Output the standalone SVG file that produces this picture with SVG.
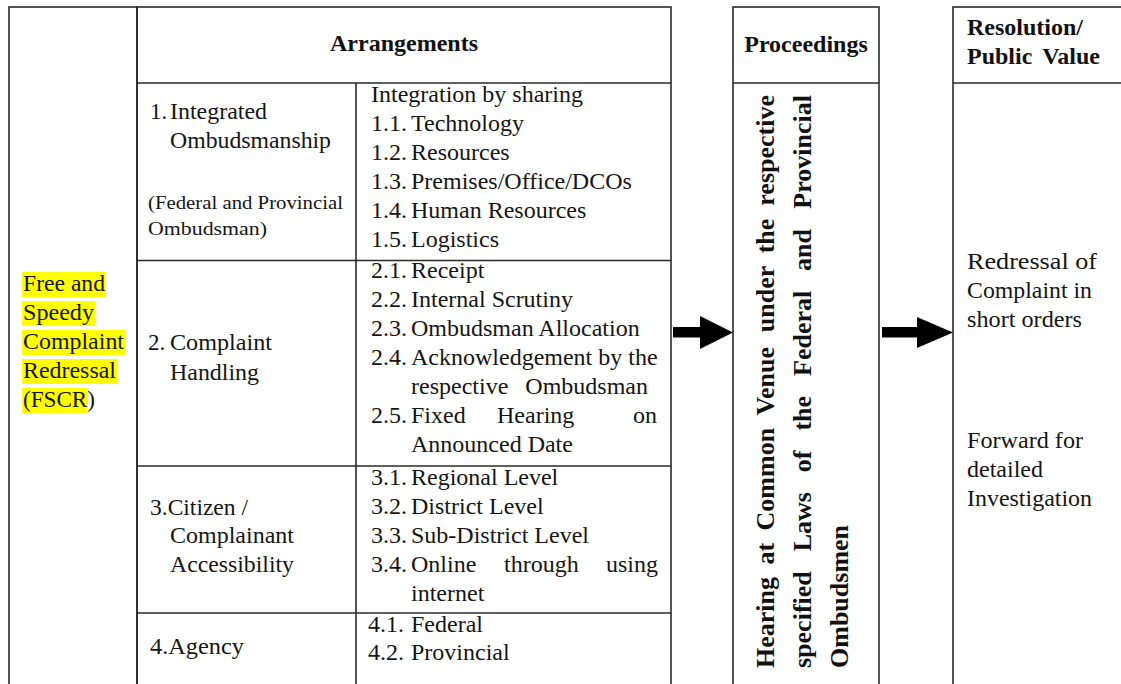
<svg xmlns="http://www.w3.org/2000/svg" width="1121" height="684" viewBox="0 0 1121 684">
<style>
  .bd { fill: none; stroke: #2a2a2a; stroke-width: 1.6; }
  .t { font-family: "Liberation Serif", "Times New Roman", serif; font-size: 24px; fill: #151515; }
  .c { font-family: "Liberation Serif", "Times New Roman", serif; font-size: 23px; fill: #151515; }
  .s { font-family: "Liberation Serif", "Times New Roman", serif; font-size: 19px; fill: #151515; }
  .h { font-family: "Liberation Serif", "Times New Roman", serif; font-size: 24px; font-weight: bold; fill: #111; }
  .v { font-family: "Liberation Serif", "Times New Roman", serif; font-size: 26px; font-weight: bold; fill: #111; }
  .hl { fill: #ffff00; }
  .arrow { fill: #000; }
</style>
<rect width="1121" height="684" fill="#ffffff"/>

<g id="fscr">
  <rect class="bd" x="9" y="7" width="128" height="700"/>
  <rect class="hl" x="22" y="272" width="84" height="25"/>
  <rect class="hl" x="22" y="301" width="73" height="25"/>
  <rect class="hl" x="22" y="330" width="103" height="25"/>
  <rect class="hl" x="22" y="359" width="95" height="25"/>
  <rect class="hl" x="22" y="388" width="65" height="25"/>
  <text class="c" x="23" y="291" textLength="82" lengthAdjust="spacingAndGlyphs">Free and</text>
  <text class="c" x="23" y="320" textLength="71" lengthAdjust="spacingAndGlyphs">Speedy</text>
  <text class="c" x="23" y="349" textLength="101" lengthAdjust="spacingAndGlyphs">Complaint</text>
  <text class="c" x="23" y="378" textLength="93" lengthAdjust="spacingAndGlyphs">Redressal</text>
  <text class="c" x="23" y="407" textLength="72" lengthAdjust="spacingAndGlyphs">(FSCR)</text>
</g>

<g id="arrangements">
  <rect class="bd" x="137" y="7" width="534" height="700"/>
  <line class="bd" x1="137" y1="83" x2="671" y2="83"/>
  <line class="bd" x1="356" y1="83" x2="356" y2="700"/>
  <line class="bd" x1="137" y1="260.5" x2="671" y2="260.5"/>
  <line class="bd" x1="137" y1="466" x2="671" y2="466"/>
  <line class="bd" x1="137" y1="613" x2="671" y2="613"/>
  <text class="h" x="404" y="51" text-anchor="middle">Arrangements</text>
</g>

<g id="row1">
  <text class="c" x="150" y="119">1.</text>
  <text class="c" x="170" y="119" textLength="97" lengthAdjust="spacingAndGlyphs">Integrated</text>
  <text class="c" x="170" y="148" textLength="161" lengthAdjust="spacingAndGlyphs">Ombudsmanship</text>
  <text class="s" x="148" y="209" textLength="195" lengthAdjust="spacingAndGlyphs">(Federal and Provincial</text>
  <text class="s" x="148" y="235" textLength="119" lengthAdjust="spacingAndGlyphs">Ombudsman)</text>
  <text class="t" x="371" y="102">Integration by sharing</text>
  <text class="t" x="371" y="131">1.1.</text><text class="t" x="411" y="131">Technology</text>
  <text class="t" x="371" y="160">1.2.</text><text class="t" x="411" y="160">Resources</text>
  <text class="t" x="371" y="189">1.3.</text><text class="t" x="411" y="189">Premises/Office/DCOs</text>
  <text class="t" x="371" y="218">1.4.</text><text class="t" x="411" y="218">Human Resources</text>
  <text class="t" x="371" y="247">1.5.</text><text class="t" x="411" y="247">Logistics</text>
</g>

<g id="row2">
  <text class="c" x="148" y="350">2.</text>
  <text class="c" x="170" y="350" textLength="102" lengthAdjust="spacingAndGlyphs">Complaint</text>
  <text class="c" x="170" y="380" textLength="89" lengthAdjust="spacingAndGlyphs">Handling</text>
  <text class="t" x="371" y="278">2.1.</text><text class="t" x="411" y="278">Receipt</text>
  <text class="t" x="371" y="307">2.2.</text><text class="t" x="411" y="307">Internal Scrutiny</text>
  <text class="t" x="371" y="336">2.3.</text><text class="t" x="411" y="336">Ombudsman Allocation</text>
  <text class="t" x="371" y="365">2.4.</text><text class="t" x="411" y="365">Acknowledgement by the</text>
  <text class="t" x="411" y="394">respective</text><text class="t" x="648" y="394" text-anchor="end">Ombudsman</text>
  <text class="t" x="371" y="423">2.5.</text><text class="t" x="411" y="423">Fixed</text><text class="t" x="497" y="423">Hearing</text><text class="t" x="657" y="423" text-anchor="end">on</text>
  <text class="t" x="411" y="452">Announced Date</text>
</g>

<g id="row3">
  <text class="c" x="150" y="515" textLength="98" lengthAdjust="spacingAndGlyphs">3.Citizen /</text>
  <text class="c" x="170" y="543" textLength="124" lengthAdjust="spacingAndGlyphs">Complainant</text>
  <text class="c" x="170" y="572" textLength="124" lengthAdjust="spacingAndGlyphs">Accessibility</text>
  <text class="t" x="371" y="485">3.1.</text><text class="t" x="411" y="485">Regional Level</text>
  <text class="t" x="371" y="514">3.2.</text><text class="t" x="411" y="514">District Level</text>
  <text class="t" x="371" y="543">3.3.</text><text class="t" x="411" y="543">Sub-District Level</text>
  <text class="t" x="371" y="572">3.4.</text><text class="t" x="411" y="572">Online</text><text class="t" x="504" y="572">through</text><text class="t" x="658" y="572" text-anchor="end">using</text>
  <text class="t" x="411" y="601">internet</text>
</g>

<g id="row4">
  <text class="c" x="150" y="654" textLength="94" lengthAdjust="spacingAndGlyphs">4.Agency</text>
  <text class="t" x="368" y="632">4.1.</text><text class="t" x="411" y="632">Federal</text>
  <text class="t" x="368" y="660">4.2.</text><text class="t" x="411" y="660">Provincial</text>
</g>

<g id="proceedings">
  <rect class="bd" x="733" y="7" width="146" height="700"/>
  <line class="bd" x1="733" y1="83" x2="879" y2="83"/>
  <text class="h" x="806" y="52" text-anchor="middle">Proceedings</text>
  <g transform="translate(774,668) rotate(-90)">
    <text class="v" x="0" y="0">Hearing</text>
    <text class="v" x="103.5" y="0">at</text>
    <text class="v" x="137.6" y="0">Common</text>
    <text class="v" x="252.6" y="0">Venue</text>
    <text class="v" x="335.8" y="0">under</text>
    <text class="v" x="414.7" y="0">the</text>
    <text class="v" x="573" y="0" text-anchor="end">respective</text>
  </g>
  <g transform="translate(811,668) rotate(-90)">
    <text class="v" x="0" y="0">specified</text>
    <text class="v" x="116.7" y="0">Laws</text>
    <text class="v" x="195.8" y="0">of</text>
    <text class="v" x="237.4" y="0">the</text>
    <text class="v" x="292" y="0">Federal</text>
    <text class="v" x="397.1" y="0">and</text>
    <text class="v" x="573" y="0" text-anchor="end">Provincial</text>
  </g>
  <g transform="translate(848,668) rotate(-90)">
    <text class="v" x="0" y="0">Ombudsmen</text>
  </g>
</g>

<g id="resolution">
  <rect class="bd" x="953" y="7" width="200" height="700"/>
  <line class="bd" x1="953" y1="83" x2="1121" y2="83"/>
  <text class="h" x="967" y="35">Resolution/</text>
  <text class="h" x="967" y="64">Public</text>
  <text class="h" x="1100" y="64" text-anchor="end">Value</text>
  <text class="c" x="967" y="269" textLength="130" lengthAdjust="spacingAndGlyphs">Redressal of</text>
  <text class="c" x="967" y="298" textLength="125" lengthAdjust="spacingAndGlyphs">Complaint in</text>
  <text class="c" x="967" y="327" textLength="115" lengthAdjust="spacingAndGlyphs">short orders</text>
  <text class="c" x="967" y="448" textLength="116" lengthAdjust="spacingAndGlyphs">Forward for</text>
  <text class="c" x="967" y="477" textLength="76" lengthAdjust="spacingAndGlyphs">detailed</text>
  <text class="c" x="967" y="506" textLength="125" lengthAdjust="spacingAndGlyphs">Investigation</text>
</g>

<g id="connectors">
  <polygon class="arrow" points="673,327 700,327 700,316 733,332.5 700,349 700,337.5 673,337.5"/>
  <polygon class="arrow" points="882,327 917,327 917,317 953,332.5 917,348 917,337.5 882,337.5"/>
</g>
</svg>
